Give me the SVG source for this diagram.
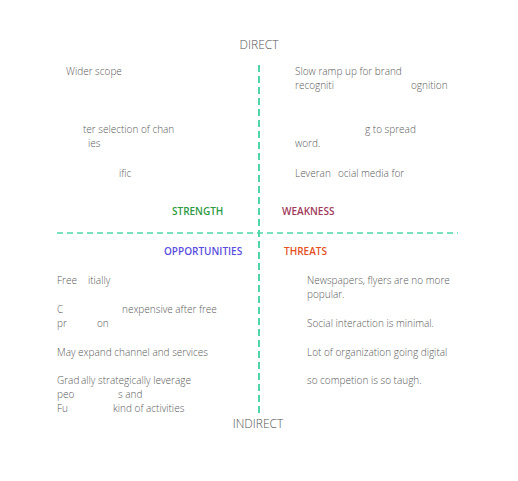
<svg xmlns="http://www.w3.org/2000/svg" width="518" height="481" viewBox="0 0 518 481">
<style>
.t{font-family:"Open Sans","Noto Sans","Liberation Sans",sans-serif;font-size:10px;font-weight:300;fill:#5a5a5a}
.ax{font-family:"Open Sans","Noto Sans","Liberation Sans",sans-serif;font-size:12px;font-weight:300;fill:#555;text-anchor:middle}
.h{font-family:"Open Sans","Noto Sans","Liberation Sans",sans-serif;font-size:10px;font-weight:600}
.d{stroke:#4fd6a8;fill:none}
</style>
<rect width="518" height="481" fill="#fff"/>
<g id="connectors">
<line class="d" x1="259" y1="65" x2="259" y2="416" stroke-width="2" stroke-dasharray="7,4"/>
<line class="d" x1="57" y1="233" x2="458" y2="233" stroke-width="1.5" stroke-dasharray="6,4"/>
</g>
<g id="axis-direct"><text class="ax" x="259" y="49">DIRECT</text></g>
<g id="axis-indirect"><text class="ax" x="258" y="428">INDIRECT</text></g>
<g id="strength">
<text class="h" x="172" y="215" fill="#2e9a44">STRENGTH</text>
<text class="t" x="66" y="75">Wider scope</text>
<text class="t" x="83" y="133">ter selection of chan</text>
<text class="t" x="88" y="147">ies</text>
<text class="t" x="119" y="177">ific</text>
</g>
<g id="weakness">
<text class="h" x="282" y="215" fill="#a03a5c">WEAKNESS</text>
<text class="t" x="295" y="75">Slow ramp up for brand</text>
<text class="t" x="295" y="89">recogniti</text>
<text class="t" x="411" y="89">ognition</text>
<text class="t" x="365" y="133">g to spread</text>
<text class="t" x="295" y="147">word.</text>
<text class="t" x="295" y="177">Leveran</text>
<text class="t" x="338" y="177">ocial media for</text>
</g>
<g id="opportunities">
<text class="h" x="164" y="255" fill="#5a4ee0">OPPORTUNITIES</text>
<text class="t" x="57" y="284">Free</text>
<text class="t" x="88" y="284">itially</text>
<text class="t" x="57" y="313">C</text>
<text class="t" x="122" y="313">nexpensive after free</text>
<text class="t" x="57" y="327">pr</text>
<text class="t" x="97" y="327">on</text>
<text class="t" x="57" y="356">May expand channel and services</text>
<text class="t" x="57" y="384">Grad</text>
<text class="t" x="81" y="384">ally strategically leverage</text>
<text class="t" x="57" y="398">peo</text>
<text class="t" x="118" y="398">s and</text>
<text class="t" x="57" y="412">Fu</text>
<text class="t" x="113" y="412">kind of activities</text>
</g>
<g id="threats">
<text class="h" x="284" y="255" fill="#e4511e">THREATS</text>
<text class="t" x="307" y="284">Newspapers, flyers are no more</text>
<text class="t" x="307" y="298">popular.</text>
<text class="t" x="307" y="327">Social interaction is minimal.</text>
<text class="t" x="307" y="356">Lot of organization going digital</text>
<text class="t" x="307" y="384">so competion is so taugh.</text>
</g>
</svg>
